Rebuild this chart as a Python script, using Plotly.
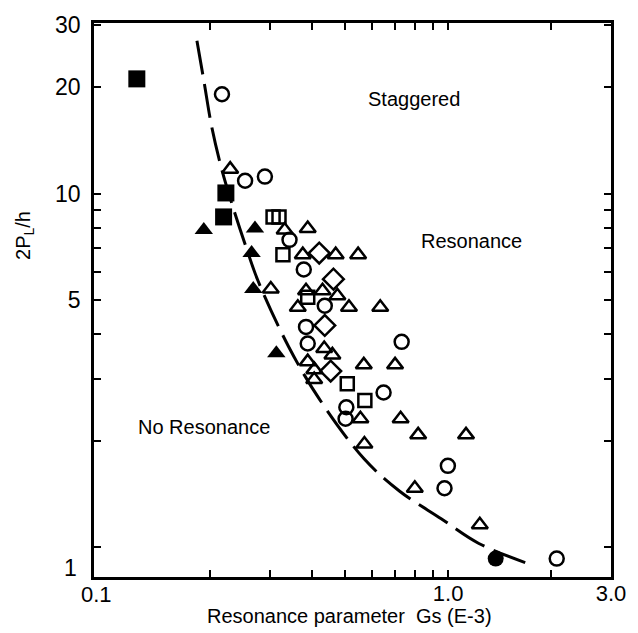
import plotly.graph_objects as go

# ---- data ----
curve_x = [0.1836, 0.1923, 0.2028, 0.2169, 0.2318, 0.2545, 0.2776, 0.3415, 0.420, 0.567, 0.721, 0.954, 1.230, 1.763]
curve_y = [27.03, 20.9, 15.47, 11.74, 9.44, 7.16, 5.65, 3.68, 2.62, 1.78, 1.441, 1.205, 1.026, 0.891]

fsq_x = [0.1224, 0.2232, 0.2198]
fsq_y = [21.09, 10.04, 8.59]

ftri_x = [0.1923, 0.2716, 0.2655, 0.2685, 0.3137]
ftri_y = [7.89, 7.97, 6.79, 5.37, 3.54]

fcir_x = [1.378]
fcir_y = [0.930]

ocir_x = [0.2174, 0.2541, 0.2904, 0.3429, 0.3775, 0.4350, 0.3833, 0.3877, 0.7307, 0.6468, 0.5031, 0.5006, 0.998, 0.9756, 2.080]
ocir_y = [19.08, 10.87, 11.17, 7.40, 6.10, 4.82, 4.20, 3.77, 3.81, 2.74, 2.49, 2.31, 1.70, 1.47, 0.930]

otri_x = [0.2298, 0.3318, 0.3877, 0.3750, 0.4682, 0.5447, 0.3022, 0.3833, 0.4284, 0.4736,
          0.3626, 0.5121, 0.6324, 0.4333, 0.4579, 0.3877, 0.5660, 0.6989, 0.4054, 0.4050,
          0.5532, 0.7257, 0.8168, 1.128, 0.5683, 0.7985, 1.238]
otri_y = [11.72, 7.89, 7.97, 6.72, 6.72, 6.72, 5.37, 5.31, 5.31, 5.14,
          4.77, 4.77, 4.77, 3.65, 3.50, 3.35, 3.28, 3.28, 3.18, 2.98,
          2.31, 2.31, 2.08, 2.08, 1.96, 1.47, 1.159]

osq_x = [0.3069, 0.3194, 0.3280, 0.3877, 0.5063, 0.5700]
osq_y = [8.59, 8.59, 6.72, 5.09, 2.90, 2.60]

odia_x = [0.4190, 0.4611, 0.4350, 0.4527]
odia_y = [6.79, 5.73, 4.24, 3.15]

y_tickvals = [1, 2, 3, 4, 5, 6, 7, 8, 9, 10, 20, 30]
y_ticktext = ["", "", "", "", "5", "", "", "", "", "10", "20", "30"]
x_tickvals = [0.2, 0.3, 0.4, 0.5, 0.6, 0.7, 0.8, 0.9, 1.0, 2.0, 3.0]
x_ticktext = ["", "", "", "", "", "", "", "", "1.0", "", "3.0"]

FONT = "Liberation Sans, Arial, sans-serif"

fig = go.Figure()

fig.add_trace(go.Scatter(x=curve_x, y=curve_y, mode="lines",
                         line=dict(color="black", width=3, dash="34px,10px", shape="spline"),
                         showlegend=False, hoverinfo="skip"))

open_line = dict(color="black", width=2.5)
fig.add_trace(go.Scatter(x=ocir_x, y=ocir_y, mode="markers",
                         marker=dict(symbol="circle-open", size=14, line=open_line, color="black"),
                         showlegend=False))
fig.add_trace(go.Scatter(x=otri_x, y=otri_y, mode="markers",
                         marker=dict(symbol="triangle-up-open", size=14, line=open_line, color="black"),
                         showlegend=False))
fig.add_trace(go.Scatter(x=osq_x, y=osq_y, mode="markers",
                         marker=dict(symbol="square-open", size=13, line=open_line, color="black"),
                         showlegend=False))
fig.add_trace(go.Scatter(x=odia_x, y=odia_y, mode="markers",
                         marker=dict(symbol="diamond-open", size=16, line=open_line, color="black"),
                         showlegend=False))
fig.add_trace(go.Scatter(x=fsq_x, y=fsq_y, mode="markers",
                         marker=dict(symbol="square", size=17, color="black"),
                         showlegend=False))
fig.add_trace(go.Scatter(x=ftri_x, y=ftri_y, mode="markers",
                         marker=dict(symbol="triangle-up", size=16, color="black"),
                         showlegend=False))
fig.add_trace(go.Scatter(x=fcir_x, y=fcir_y, mode="markers",
                         marker=dict(symbol="circle", size=16, color="black"),
                         showlegend=False))

axis_common = dict(showline=True, linecolor="black", linewidth=2.5, mirror="ticks",
                   ticks="inside", ticklen=7, tickwidth=2, tickcolor="black",
                   showgrid=False, zeroline=False)

fig.update_xaxes(type="log", range=[-1.0377, 0.4771], tickmode="array",
                 tickvals=x_tickvals, ticktext=x_ticktext, ticklabelstandoff=-5,
                 tickfont=dict(family=FONT, size=22, color="black"), **axis_common)
fig.update_yaxes(type="log", range=[-0.0836, 1.482], tickmode="array",
                 tickvals=y_tickvals, ticktext=y_ticktext, ticklabelstandoff=6,
                 tickfont=dict(family=FONT, size=23, color="black"), **axis_common)

annots = [
    dict(text="Staggered", x=0.6195, y=0.863),
    dict(text="Resonance", x=0.7304, y=0.6068),
    dict(text="No Resonance", x=0.2122, y=0.2705),
    dict(text="Resonance parameter\u00a0\u00a0Gs (E-3)", x=0.495, y=-0.0712),
]
for a in annots:
    fig.add_annotation(xref="paper", yref="paper", showarrow=False,
                       xanchor="center", yanchor="middle",
                       font=dict(family=FONT, size=20, color="black"), **a)
fig.add_annotation(xref="paper", yref="paper", showarrow=False, text="0.1",
                   x=0.0057, y=-0.032, xanchor="center", yanchor="middle",
                   font=dict(family=FONT, size=22, color="black"))
fig.add_annotation(xref="paper", yref="paper", showarrow=False, text="1",
                   x=-0.0287, y=0.016, xanchor="right", yanchor="middle",
                   font=dict(family=FONT, size=23, color="black"))
fig.add_annotation(xref="paper", yref="paper", showarrow=False, text="2P<sub>L</sub>/h",
                   x=-0.1358, y=0.617, xanchor="center", yanchor="middle", textangle=-90,
                   font=dict(family=FONT, size=20, color="black"))

fig.update_layout(width=638, height=633, margin=dict(l=94, r=21, t=15, b=56),
                  plot_bgcolor="white", paper_bgcolor="white", showlegend=False)

fig.write_html("out.html", config={"displayModeBar": False},
               post_script="document.body.style.margin='0';document.body.style.overflow='hidden';")
